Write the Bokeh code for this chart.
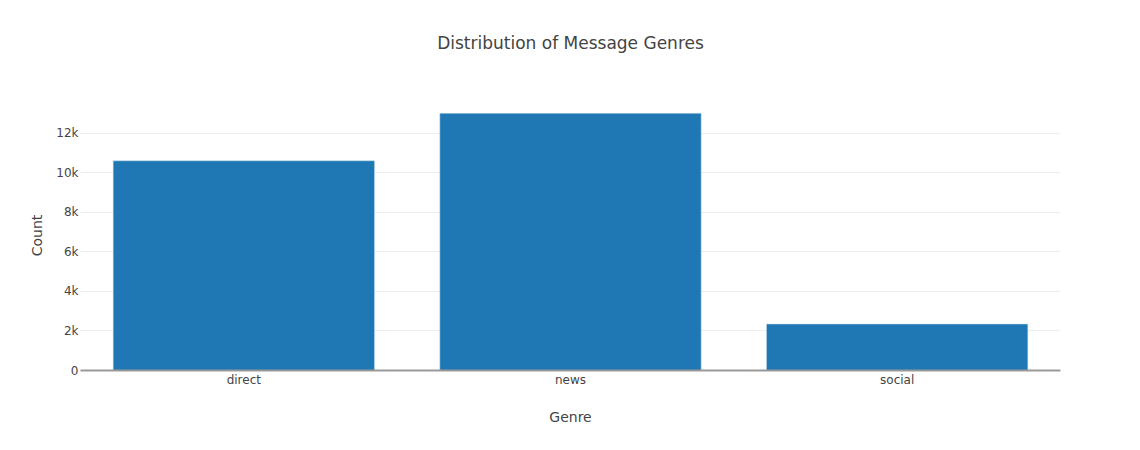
from bokeh.plotting import figure
from bokeh.models import Range1d, FixedTicker, Title
from bokeh.embed import file_html
from bokeh.resources import INLINE

genres = ["direct", "news", "social"]
counts = [10610, 13010, 2350]
y_ticks = [0, 2000, 4000, 6000, 8000, 10000, 12000]
y_tick_labels = ["0", "2k", "4k", "6k", "8k", "10k", "12k"]

FONT = "DejaVu Sans"
TEXT = "#444444"

p = figure(width=1124, height=434, x_range=genres,
           y_range=Range1d(0, max(counts) * 1.05), title=None,
           output_backend="svg", toolbar_location=None,
           min_border_left=80, min_border_right=64,
           min_border_top=100, min_border_bottom=64)

p.vbar(x=genres, top=counts, width=0.8, fill_color="#1f77b4",
       line_color="#c6dcec", line_width=0.5)

# blank title as a spacer next to the frame, real title above it
p.add_layout(Title(text=" ", text_font_size="1px", standoff=45), "above")
p.add_layout(Title(text="Distribution of Message Genres", align="center",
                   text_font=FONT, text_font_size="17px",
                   text_font_style="normal", text_color=TEXT, standoff=0),
             "above")

p.outline_line_color = None
p.xgrid.grid_line_color = None
p.ygrid.grid_line_color = "#eeeeee"
p.ygrid.ticker = FixedTicker(ticks=y_ticks)

p.yaxis.ticker = FixedTicker(ticks=y_ticks)
p.yaxis.major_label_overrides = dict(zip(y_ticks, y_tick_labels))
p.yaxis.axis_line_color = None
p.yaxis.major_label_standoff = 2
p.yaxis.axis_label = "Count"
p.yaxis.axis_label_standoff = 8

p.xaxis.axis_line_color = "#999999"
p.xaxis.axis_line_width = 2
p.xaxis.major_label_standoff = 2
p.xaxis.axis_label = "Genre"
p.xaxis.axis_label_standoff = 19

for ax in (p.xaxis, p.yaxis):
    ax.major_tick_line_color = None
    ax.minor_tick_line_color = None
    ax.major_tick_out = 0
    ax.major_tick_in = 0
    ax.minor_tick_out = 0
    ax.major_label_text_font = FONT
    ax.major_label_text_font_size = "12px"
    ax.major_label_text_color = TEXT
    ax.axis_label_text_font = FONT
    ax.axis_label_text_font_size = "14px"
    ax.axis_label_text_font_style = "normal"
    ax.axis_label_text_color = TEXT

open("out.html", "w").write(file_html(p, INLINE))
